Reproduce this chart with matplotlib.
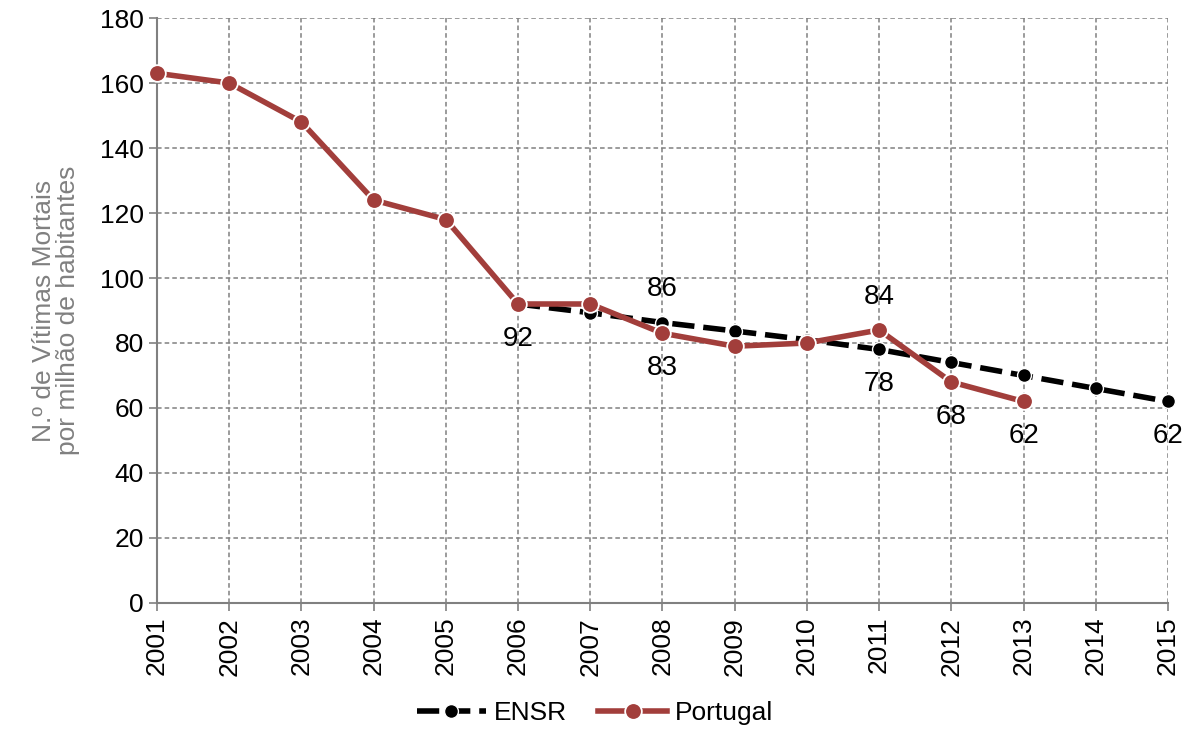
import matplotlib.pyplot as plt

plt.rcParams['font.family'] = ['Liberation Sans', 'DejaVu Sans']

years_ensr = [2006, 2007, 2008, 2009, 2010, 2011, 2012, 2013, 2014, 2015]
ensr = [92, 89.3, 86.3, 83.7, 81, 78, 74, 70, 66, 62]

years_pt = [2001, 2002, 2003, 2004, 2005, 2006, 2007, 2008, 2009, 2010, 2011, 2012, 2013]
portugal = [163, 160, 148, 124, 118, 92, 92, 83, 79, 80, 84, 68, 62]

# (year, value, text, above?)
labels = [
    (2006, 92, "92", False),
    (2008, 86.3, "86", True),
    (2008, 83, "83", False),
    (2011, 84, "84", True),
    (2011, 78, "78", False),
    (2012, 68, "68", False),
    (2013, 62, "62", False),
    (2015, 62, "62", False),
]

red = "#A23E3B"
grey = "#808080"

fig = plt.figure(figsize=(11.9, 7.33), dpi=100)
ax = fig.add_axes([0.1319, 0.1774, 0.8496, 0.798])

ax.plot(years_ensr, ensr, color="black", lw=4, dashes=(4, 1.6), marker="o",
        markersize=10, markerfacecolor="black", markeredgecolor="white",
        markeredgewidth=1.0, label="ENSR", clip_on=False, zorder=3)
ax.plot(years_pt, portugal, color=red, lw=4, marker="o", markersize=12,
        markerfacecolor=red, markeredgecolor="white", markeredgewidth=1.3,
        label="Portugal", clip_on=False, zorder=4)

for x, y, t, above in labels:
    off = 24 if above else -25
    ax.annotate(t, (x, y), xytext=(0, off), textcoords="offset points",
                ha="center", va="center", fontsize=20, color="black")

ax.set_xlim(2001, 2015)
ax.set_ylim(0, 180)
ax.set_yticks(range(0, 181, 20))
ax.set_xticks(range(2001, 2016))
ax.set_xticklabels([str(y) for y in range(2001, 2016)], rotation=90)
ax.tick_params(axis="both", labelsize=19, color=grey, length=6, width=1.2)
ax.tick_params(axis="x", pad=4)

ax.grid(True, linestyle=(0, (3, 2)), color=grey, lw=1.1)
ax.set_axisbelow(True)
for s in ["top", "right"]:
    ax.spines[s].set_visible(False)
for s in ["left", "bottom"]:
    ax.spines[s].set_color(grey)
    ax.spines[s].set_linewidth(1.5)

ax.set_ylabel("N.º de Vítimas Mortais\npor milhão de habitantes", fontsize=19,
              color=grey, linespacing=1.0, labelpad=14)

fig.legend(loc="lower center", bbox_to_anchor=(0.5, -0.022), ncol=2, frameon=False,
           fontsize=19, handlelength=2.6, handletextpad=0.3, columnspacing=1.2)

fig.savefig("out.png", dpi=100)
